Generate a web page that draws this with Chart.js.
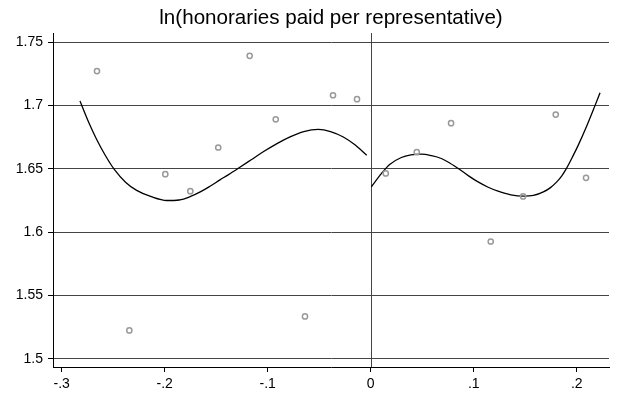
<!DOCTYPE html>
<html>
<head>
<meta charset="utf-8">
<script src="https://cdn.jsdelivr.net/npm/chart.js@4"></script>
<style>
  html, body { margin: 0; padding: 0; background: #fff; }
  #wrap { width: 619px; height: 395px; }
</style>
</head>
<body>
<div id="wrap"><canvas id="c" width="619" height="395"></canvas></div>
<script>
// Binned means of ln(honoraries paid per representative)
const binX = [-0.2657, -0.2343, -0.1994, -0.1751, -0.1480, -0.1175, -0.0922, -0.0638, -0.0366, -0.0133,
              0.0146, 0.0447, 0.0780, 0.1165, 0.1479, 0.1796, 0.2090];
const binY = [1.7273, 1.5223, 1.6458, 1.6324, 1.6669, 1.7394, 1.6892, 1.5334, 1.7082, 1.7051,
              1.6464, 1.6632, 1.6861, 1.5926, 1.6282, 1.6929, 1.6429];

// Polynomial fit, left of the cutoff
const leftFitX = [-0.2822, -0.2740, -0.2660, -0.2580, -0.2489, -0.2380, -0.2272, -0.2130, -0.1980,
                  -0.1860, -0.1754, -0.1650, -0.1560, -0.1463, -0.1380, -0.1285, -0.1160, -0.1043,
                  -0.0910, -0.0783, -0.0650, -0.0509, -0.0390, -0.0266, -0.0150, -0.0039];
const leftFitY = [1.7036, 1.6872, 1.6732, 1.6612, 1.6496, 1.6395, 1.6330, 1.6280, 1.6250,
                  1.6254, 1.6280, 1.6320, 1.6363, 1.6413, 1.6455, 1.6505, 1.6572, 1.6635,
                  1.6700, 1.6753, 1.6795, 1.6812, 1.6795, 1.6752, 1.6688, 1.6608];

// Polynomial fit, right of the cutoff
const rightFitX = [0.0006, 0.0103, 0.0184, 0.0297, 0.0390, 0.0491, 0.0590, 0.0685, 0.0770, 0.0864,
                   0.0950, 0.1042, 0.1140, 0.1236, 0.1360, 0.1482, 0.1580, 0.1676, 0.1745, 0.1806,
                   0.1855, 0.1896, 0.1960, 0.2016, 0.2100, 0.2178, 0.2226];
const rightFitY = [1.6358, 1.6462, 1.6535, 1.6590, 1.6610, 1.6616, 1.6604, 1.6582, 1.6545, 1.6495,
                   1.6445, 1.6397, 1.6355, 1.6324, 1.6295, 1.6284, 1.6290, 1.6318, 1.6352, 1.6397,
                   1.6445, 1.6498, 1.6597, 1.6690, 1.6845, 1.7002, 1.7101];

const xTicks = [-0.3, -0.2, -0.1, 0, 0.1, 0.2];
const yTicks = [1.5, 1.55, 1.6, 1.65, 1.7, 1.75];
const cutoff = 0;

const toPts = (xs, ys) => xs.map((x, i) => ({ x: x, y: ys[i] }));
const FONT = "'Liberation Sans', Arial, Helvetica, sans-serif";

const cutoffLine = {
  id: 'cutoffLine',
  beforeDatasetsDraw(chart) {
    const { ctx, chartArea, scales } = chart;
    const px = Math.round(scales.x.getPixelForValue(cutoff)) + 0.5;
    ctx.save();
    ctx.strokeStyle = '#444';
    ctx.lineWidth = 1;
    ctx.beginPath();
    ctx.moveTo(px, chartArea.top);
    ctx.lineTo(px, chartArea.bottom);
    ctx.stroke();
    ctx.restore();
  }
};

const fitLine = (xs, ys) => ({
  data: toPts(xs, ys),
  showLine: true,
  borderColor: '#000',
  borderWidth: 1.3,
  pointRadius: 0,
  cubicInterpolationMode: 'monotone',
  fill: false
});

new Chart(document.getElementById('c'), {
  type: 'scatter',
  data: {
    datasets: [
      {
        data: toPts(binX, binY),
        pointStyle: 'circle',
        pointRadius: 2.6,
        pointBorderWidth: 1.5,
        pointBorderColor: '#999',
        pointBackgroundColor: 'rgba(255,255,255,0)',
        showLine: false
      },
      fitLine(leftFitX, leftFitY),
      fitLine(rightFitX, rightFitY)
    ]
  },
  options: {
    responsive: false,
    animation: false,
    layout: { padding: { left: 0, right: 10, top: 0, bottom: 0 } },
    plugins: {
      legend: { display: false },
      tooltip: { enabled: false },
      title: {
        display: true,
        fullSize: false,
        text: 'ln(honoraries paid per representative)',
        color: '#000',
        font: { family: FONT, size: 20.6, weight: 'normal', lineHeight: 1.2 },
        padding: { top: 6, bottom: 2.3 }
      }
    },
    scales: {
      x: {
        type: 'linear',
        min: -0.3084,
        max: 0.2313,
        afterBuildTicks(scale) { scale.ticks = xTicks.map(v => ({ value: v })); },
        afterFit(scale) { scale.height = 28; },
        border: { display: true, color: '#000', width: 1 },
        grid: { drawOnChartArea: false, drawTicks: true, tickLength: 5, tickColor: '#000' },
        ticks: {
          color: '#000',
          padding: 4,
          maxRotation: 0,
          font: { family: FONT, size: 14 },
          callback(v) {
            if (Math.abs(v) < 1e-9) return '0';
            return String(Math.round(v * 10) / 10).replace('0.', '.');
          }
        }
      },
      y: {
        type: 'linear',
        min: 1.4934,
        max: 1.7574,
        afterBuildTicks(scale) { scale.ticks = yTicks.map(v => ({ value: v })); },
        afterFit(scale) { scale.width = 53; },
        border: { display: true, color: '#000', width: 1 },
        grid: { drawOnChartArea: true, color: '#444', lineWidth: 1, drawTicks: true, tickLength: 5, tickColor: '#000' },
        ticks: {
          color: '#000',
          padding: 5,
          font: { family: FONT, size: 14 },
          callback(v) { return String(Math.round(v * 100) / 100); }
        }
      }
    }
  },
  plugins: [cutoffLine]
});
</script>
</body>
</html>
